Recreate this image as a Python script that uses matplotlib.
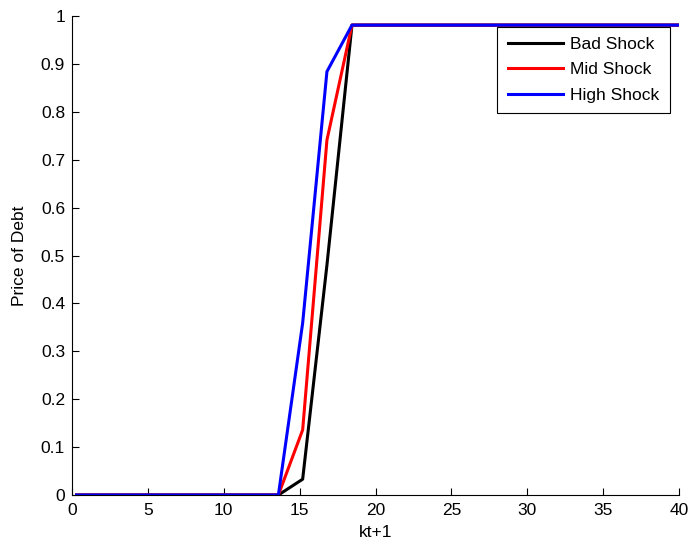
import numpy as np
import matplotlib.pyplot as plt

plt.rcParams['font.family'] = ['Liberation Sans', 'DejaVu Sans']

# kink points
k_next = [0.3, 13.6, 15.2, 16.8, 18.45, 40]
bad_shock = [0, 0, 0.033, 0.48, 0.981, 0.981]
mid_shock = [0, 0, 0.136, 0.741, 0.981, 0.981]
high_shock = [0, 0, 0.359, 0.884, 0.981, 0.981]

fs = 12.5

fig = plt.figure(figsize=(6.94, 5.46), dpi=100)
ax = fig.add_axes([72/694, 1-495/546, 607/694, 479/546])

ax.plot(k_next, bad_shock, color='black', lw=2.2, label='Bad Shock')
ax.plot(k_next, mid_shock, color='red', lw=2.2, label='Mid Shock')
ax.plot(k_next, high_shock, color='blue', lw=2.2, label='High Shock')

ax.set_xlim(0, 40)
ax.set_ylim(0, 1)
ax.set_xticks(np.arange(0, 41, 5))
ax.set_yticks(np.arange(0, 1.01, 0.1))
ax.set_yticklabels(['0', '0.1', '0.2', '0.3', '0.4', '0.5', '0.6', '0.7', '0.8', '0.9', '1'])
ax.tick_params(direction='in', length=5, labelsize=fs, top=False, right=False)
ax.tick_params(axis='x', pad=6)
ax.tick_params(axis='y', pad=5)
for s in ['top', 'right']:
    ax.spines[s].set_visible(False)
ax.set_xlabel('kt+1', fontsize=fs, labelpad=5)
ax.set_ylabel('Price of Debt', fontsize=fs, labelpad=10)

leg = ax.legend(loc='upper right', bbox_to_anchor=(670/694, 1-26.7/546),
                bbox_transform=fig.transFigure, fontsize=fs, fancybox=False,
                edgecolor='black', framealpha=1, borderaxespad=0,
                handlelength=3.2, handletextpad=0.4, labelspacing=0.58,
                borderpad=0.6)
leg.get_frame().set_linewidth(0.8)

fig.savefig('out.png', dpi=100)
